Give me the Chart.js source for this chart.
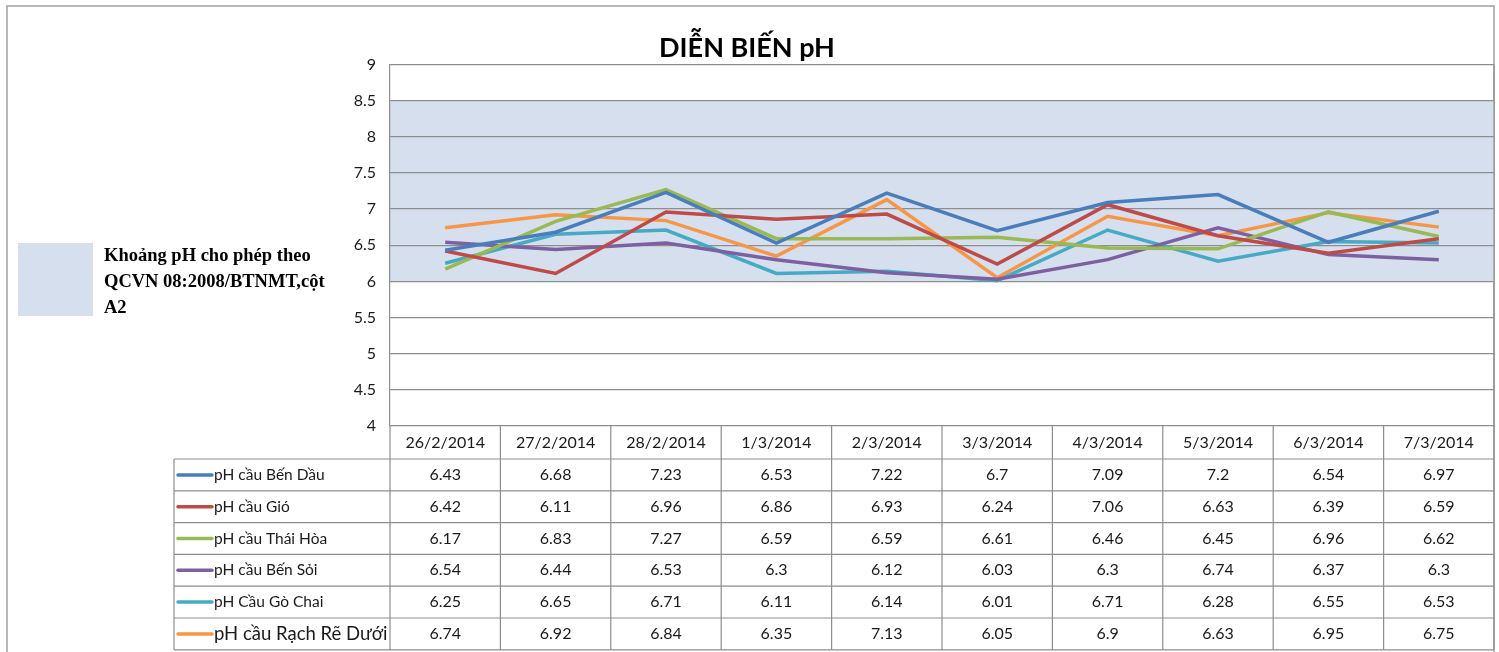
<!DOCTYPE html>
<html>
<head>
<meta charset="utf-8">
<title>DIỄN BIẾN pH</title>
<script src="https://cdn.jsdelivr.net/npm/chart.js@4"></script>
<style>
  body { margin: 0; background: #fff; }
  canvas { display: block; }
</style>
</head>
<body>
<canvas id="phChart" width="1499" height="652"></canvas>
<script>
const dates = ['26/2/2014', '27/2/2014', '28/2/2014', '1/3/2014', '2/3/2014', '3/3/2014', '4/3/2014', '5/3/2014', '6/3/2014', '7/3/2014'];
const benDau = [6.43, 6.68, 7.23, 6.53, 7.22, 6.7, 7.09, 7.2, 6.54, 6.97];
const gio = [6.42, 6.11, 6.96, 6.86, 6.93, 6.24, 7.06, 6.63, 6.39, 6.59];
const thaiHoa = [6.17, 6.83, 7.27, 6.59, 6.59, 6.61, 6.46, 6.45, 6.96, 6.62];
const benSoi = [6.54, 6.44, 6.53, 6.3, 6.12, 6.03, 6.3, 6.74, 6.37, 6.3];
const goChai = [6.25, 6.65, 6.71, 6.11, 6.14, 6.01, 6.71, 6.28, 6.55, 6.53];
const rachReDuoi = [6.74, 6.92, 6.84, 6.35, 7.13, 6.05, 6.9, 6.63, 6.95, 6.75];

const seriesNames = ['pH cầu Bến Dầu', 'pH cầu Gió', 'pH cầu Thái Hòa', 'pH cầu Bến Sỏi', 'pH Cầu Gò Chai', 'pH cầu Rạch Rẽ Dưới'];
const seriesColors = ['#4A7EBB', '#BE4B48', '#98B954', '#7D60A0', '#46AAC5', '#F79646'];
const seriesValues = [benDau, gio, thaiHoa, benSoi, goChai, rachReDuoi];

// allowed pH range (QCVN 08:2008/BTNMT, A2)
const bandLow = 6;
const bandHigh = 8.5;
const bandLabel = ['Khoảng pH cho phép theo', 'QCVN 08:2008/BTNMT,cột', 'A2'];

const gridColor = '#8E8E8E';
const bandColor = '#D5DFEE';
const rowH = 31.8;

// background, band, outer frame, left legend box
const bandPlugin = {
  id: 'band',
  beforeDraw(chart) {
    const { ctx, chartArea, scales } = chart;
    ctx.save();
    ctx.fillStyle = '#fff';
    ctx.fillRect(0, 0, chart.width, chart.height);
    ctx.strokeStyle = '#A0A0A0';
    ctx.lineWidth = 1.5;
    ctx.beginPath();
    ctx.moveTo(7, chart.height);
    ctx.lineTo(7, 6);
    ctx.lineTo(1494, 6);
    ctx.lineTo(1494, chart.height);
    ctx.stroke();

    const yTop = scales.y.getPixelForValue(bandHigh);
    const yBot = scales.y.getPixelForValue(bandLow);
    ctx.fillStyle = bandColor;
    ctx.fillRect(chartArea.left, yTop, chartArea.right - chartArea.left, yBot - yTop);

    // legend for the band
    ctx.fillRect(18, 243, 75, 73);
    ctx.fillStyle = '#000';
    ctx.font = 'bold 18.5px "Liberation Serif"';
    ctx.textBaseline = 'middle';
    bandLabel.forEach((t, i) => ctx.fillText(t, 104, 256 + i * 26));
    ctx.restore();
  }
};

// data table under the plot
const tablePlugin = {
  id: 'dataTable',
  afterDraw(chart) {
    const { ctx, chartArea, scales } = chart;
    const x = scales.x;
    const top = chartArea.bottom;
    const rowsTop = top + 33;
    const left = 174;
    const right = chartArea.right;
    const bottom = rowsTop + rowH * seriesNames.length;
    const cellW = x.getPixelForValue(1) - x.getPixelForValue(0);

    ctx.save();
    ctx.strokeStyle = gridColor;
    ctx.lineWidth = 1.2;
    ctx.beginPath();
    // plot right edge
    ctx.moveTo(right, chartArea.top);
    ctx.lineTo(right, bottom);
    // left axis line continued down
    ctx.moveTo(chartArea.left, top);
    ctx.lineTo(chartArea.left, bottom);
    // column separators
    for (let i = 1; i < dates.length; i++) {
      const cx = x.getPixelForValue(i) - cellW / 2;
      ctx.moveTo(cx, top);
      ctx.lineTo(cx, bottom);
    }
    // row lines
    for (let r = 0; r <= seriesNames.length; r++) {
      const ry = rowsTop + r * rowH;
      ctx.moveTo(left, ry);
      ctx.lineTo(right, ry);
    }
    ctx.moveTo(left, rowsTop);
    ctx.lineTo(left, bottom);
    ctx.stroke();

    ctx.textBaseline = 'middle';
    seriesNames.forEach((name, r) => {
      const cy = rowsTop + r * rowH + rowH / 2;
      ctx.strokeStyle = seriesColors[r];
      ctx.lineWidth = 3.5;
      ctx.lineCap = 'round';
      ctx.beginPath();
      ctx.moveTo(178, cy);
      ctx.lineTo(212, cy);
      ctx.stroke();
      ctx.fillStyle = '#1a1a1a';
      ctx.textAlign = 'left';
      ctx.font = (r === 5 ? '18.5px' : '15.5px') + ' Lato';
      ctx.fillText(name, 214, cy);
      ctx.textAlign = 'center';
      ctx.font = '16px Lato';
      seriesValues[r].forEach((v, i) => {
        ctx.fillText(String(v), x.getPixelForValue(i), cy);
      });
    });
    ctx.restore();
  }
};

const ctx = document.getElementById('phChart').getContext('2d');
const phChart = new Chart(ctx, {
  type: 'line',
  data: {
    labels: dates,
    datasets: seriesNames.map((name, i) => ({
      label: name,
      data: seriesValues[i],
      borderColor: seriesColors[i],
      backgroundColor: seriesColors[i],
      borderWidth: 3.5,
      pointRadius: 0,
      tension: 0
    }))
  },
  options: {
    responsive: false,
    animation: false,
    layout: {
      padding: { left: 0, top: 0, right: 5, bottom: 652 - 459 }
    },
    plugins: {
      legend: { display: false },
      tooltip: { enabled: false },
      title: {
        display: true,
        text: 'DIỄN BIẾN pH',
        color: '#000',
        font: { family: 'Lato', size: 27, weight: 'bold', lineHeight: 1.2 },
        padding: { top: 32, bottom: 0 }
      }
    },
    scales: {
      x: {
        offset: true,
        grid: { display: false, drawTicks: false },
        border: { display: false },
        ticks: {
          color: '#1a1a1a',
          font: { family: 'Lato', size: 16 },
          padding: 7,
          maxRotation: 0,
          autoSkip: false
        },
        afterFit(scale) { scale.height = 33; }
      },
      y: {
        min: 4,
        max: 9,
        ticks: {
          stepSize: 0.5,
          color: '#1a1a1a',
          font: { family: 'Lato', size: 16 },
          padding: 14,
          callback: (value) => String(value)
        },
        grid: { color: gridColor, lineWidth: 1.2, drawTicks: false },
        border: { display: true, color: gridColor, width: 1.2 },
        afterFit(scale) { scale.width = 390; }
      }
    }
  },
  plugins: [bandPlugin, tablePlugin]
});
</script>
</body>
</html>
